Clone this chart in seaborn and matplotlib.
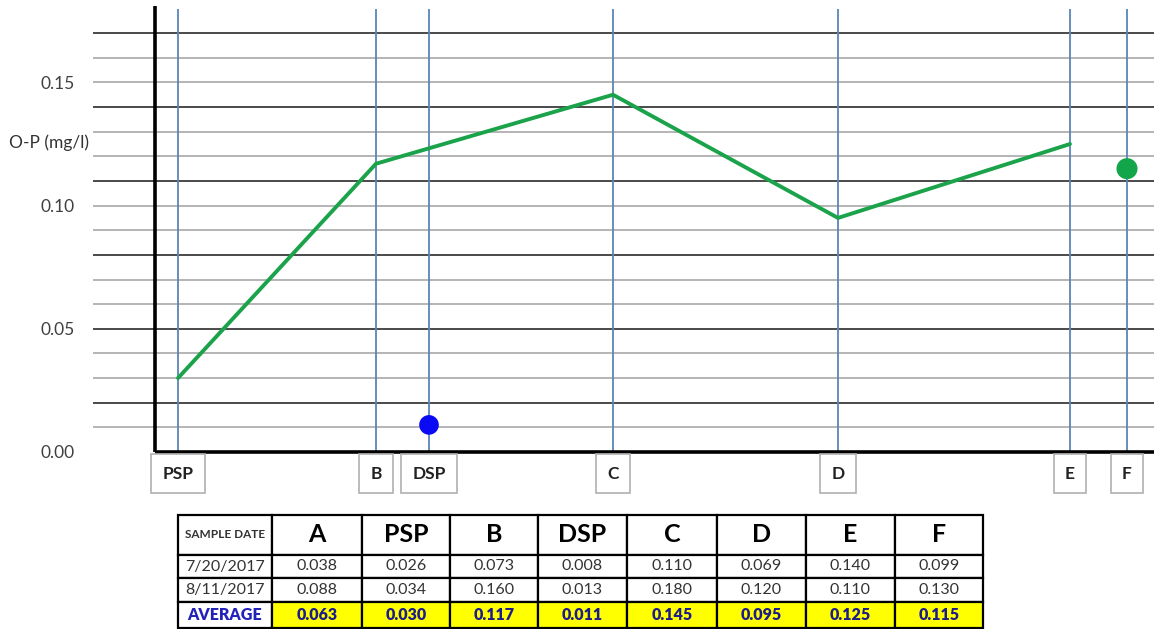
import pandas as pd
import matplotlib
matplotlib.use("Agg")
import matplotlib.pyplot as plt
import seaborn as sns

# sites along the stream (position along the x axis, arbitrary distance units)
sites = ["PSP", "B", "DSP", "C", "D", "E", "F"]
site_pos = [23, 221, 274, 458, 683, 915, 972]
line_sites = ["PSP", "B", "C", "D", "E"]

# table values
table_cols = ["A", "PSP", "B", "DSP", "C", "D", "E", "F"]
jul20 = [0.038, 0.026, 0.073, 0.008, 0.110, 0.069, 0.140, 0.099]
aug11 = [0.088, 0.034, 0.160, 0.013, 0.180, 0.120, 0.110, 0.130]
average = [0.063, 0.030, 0.117, 0.011, 0.145, 0.095, 0.125, 0.115]

avg_lookup = dict(zip(table_cols, average))
df = pd.DataFrame({"site": sites, "pos": site_pos})
df["avg"] = df["site"].map(avg_lookup)
line_df = df[df["site"].isin(line_sites)]

sns.set_style("white")
plt.rcParams["font.family"] = ["Lato", "DejaVu Sans"]

W, H = 1154, 629
fig = plt.figure(figsize=(W / 100, H / 100), dpi=100)
ax = fig.add_axes([93 / W, 1 - 452 / H, (1155 - 93) / W, (452 - 8.5) / H])
xmin, xmax, ytop = -62, 1000, 0.18
ax.set_xlim(xmin, xmax)
ax.set_ylim(0, ytop)

# horizontal grid, darker every 0.03
for i in range(1, 18):
    dark = i % 3 == 2
    ax.hlines(i / 100, xmin, xmax, color="#4a4a4a" if dark else "#b4b4b4",
              lw=1.4, zorder=1)

# site verticals
ax.vlines(df["pos"], 0, ytop, color="#5b86b6", lw=1.3, zorder=2)
# axis lines
ax.vlines(0, 0, ytop + 0.001, color="black", lw=2.6, zorder=3, clip_on=False)
ax.hlines(0, 0, xmax, color="black", lw=2.6, zorder=3, clip_on=False)

sns.lineplot(data=line_df, x="pos", y="avg", color="#1aa34a", lw=2.8,
             ax=ax, zorder=4)
dsp = df[df["site"] == "DSP"]
f_site = df[df["site"] == "F"]
sns.scatterplot(data=dsp, x="pos", y="avg", color="#0a0af5", s=200,
                marker="o", edgecolor="none", ax=ax, zorder=5)
sns.scatterplot(data=f_site, x="pos", y="avg", color="#12a54a", s=230,
                marker="o", edgecolor="none", ax=ax, zorder=5)

for s in ax.spines.values():
    s.set_visible(False)
ax.set_xticks([])
ax.set_yticks([0, 0.05, 0.10, 0.15])
ax.set_yticklabels(["0.00", "0.05", "0.10", "0.15"], color="#404040", fontsize=12.5)
ax.tick_params(axis="y", length=0, pad=13)
ax.set_xlabel("")
ax.set_ylabel("")

# site label boxes under the axis
for name, x in zip(df["site"], df["pos"]):
    ax.text(x, -0.0088, name, ha="center", va="center", fontsize=12.5,
            fontweight="bold", color="#222222", clip_on=False,
            bbox=dict(boxstyle="square,pad=0.65", fc="white", ec="#b0b0b0", lw=1.2))

fig.text(9 / W, 1 - 143 / H, "O-P (mg/l)", ha="left", va="center",
         fontsize=12.5, color="#333333")

# data table
tax = fig.add_axes([178 / W, 1 - 628 / H, (983 - 178) / W, (628 - 515) / H])
tax.axis("off")
cell_text = [["SAMPLE DATE"] + table_cols,
             ["7/20/2017"] + [f"{v:.3f}" for v in jul20],
             ["8/11/2017"] + [f"{v:.3f}" for v in aug11],
             ["AVERAGE"] + [f"{v:.3f}" for v in average]]
col_w = [94, 90, 88, 88, 89, 90, 89, 89, 88]
row_h = [40, 23, 24, 26]
tbl = tax.table(cellText=cell_text, cellLoc="center", bbox=[0, 0, 1, 1])
tbl.auto_set_font_size(False)
for (r, c), cell in tbl.get_celld().items():
    cell.set_width(col_w[c] / sum(col_w))
    cell.set_height(row_h[r] / sum(row_h))
    cell.set_edgecolor("black")
    cell.set_linewidth(1.6)
    txt = cell.get_text()
    txt.set_fontsize(11.5)
    txt.set_color("#333333")
    if r == 0:
        if c == 0:
            txt.set_fontsize(8.5)
            txt.set_fontweight("bold")
        else:
            txt.set_fontsize(18)
            txt.set_fontweight("bold")
            txt.set_color("black")
    if r == 3:
        txt.set_fontweight("heavy")
        txt.set_color("#2222bb" if c == 0 else "#1c1c8c")
        if c > 0:
            cell.set_facecolor("#ffff00")

fig.savefig("out.png", dpi=100)
